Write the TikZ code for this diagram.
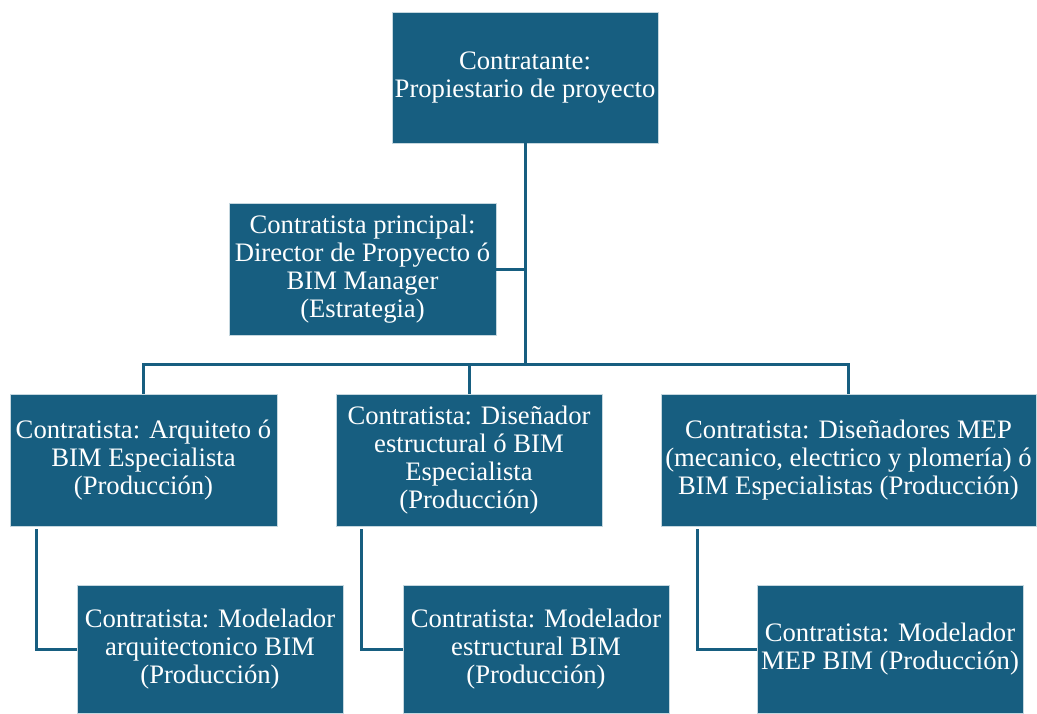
\documentclass[tikz,border=0pt]{standalone}
\usepackage{fontspec}
\setmainfont{Liberation Serif}
\usepackage{tikz}
\usetikzlibrary{calc}
\definecolor{cajaazul}{RGB}{23,94,128}

\begin{document}
\begin{tikzpicture}[x=0.75pt,y=-0.75pt,
  caja/.style={rectangle,fill=cajaazul,draw=white!75!cajaazul,line width=0.4pt,text=white,align=center,
    inner sep=2pt,font=\fontsize{20}{21}\selectfont},
  enlace/.style={draw=cajaazul,line width=2.25pt}]
\useasboundingbox (0,0) rectangle (1037,713);
\node[caja,minimum width=199.5pt,minimum height=98.25pt] (dueno) at (525,77.5) {Contratante:\\Propiestario de proyecto};
\node[caja,minimum width=200.25pt,minimum height=99pt] (director) at (362.5,269) {Contratista principal:\\Director de Propyecto ó\\BIM Manager\\(Estrategia)};
\node[caja,minimum width=200.25pt,minimum height=99pt] (arq) at (143.5,460) {Contratista: Arquiteto ó\\BIM Especialista\\(Producción)};
\node[caja,minimum width=199.5pt,minimum height=99pt] (est) at (469,460) {Contratista: Diseñador\\estructural ó BIM\\Especialista\\(Producción)};
\node[caja,minimum width=281.25pt,minimum height=99pt] (mep) at (848.5,460) {Contratista: Diseñadores MEP\\(mecanico, electrico y plomería) ó\\BIM Especialistas (Producción)};
\node[caja,minimum width=199.5pt,minimum height=96pt] (modarq) at (210,649) {Contratista: Modelador\\arquitectonico BIM\\(Producción)};
\node[caja,minimum width=199.5pt,minimum height=96pt] (modest) at (536,649) {Contratista: Modelador\\estructural BIM\\(Producción)};
\node[caja,minimum width=199.5pt,minimum height=96pt] (modmep) at (890,649) {Contratista: Modelador\\MEP BIM (Producción)};
\coordinate (barra) at (525,364);
\coordinate (bajaarq) at (36,529);
\coordinate (bajaest) at (361,529);
\coordinate (bajamep) at (697,529);
\draw[enlace] (dueno.south) -- (barra);
\draw[enlace] (director.east) -- (director.east -| dueno.south);
\draw[enlace] (arq.north) |- (barra) -| (mep.north);
\draw[enlace] (est.north) -- (est.north |- barra);
\draw[enlace] (bajaarq) |- (modarq.west);
\draw[enlace] (bajaest) |- (modest.west);
\draw[enlace] (bajamep) |- (modmep.west);
\end{tikzpicture}
\end{document}
